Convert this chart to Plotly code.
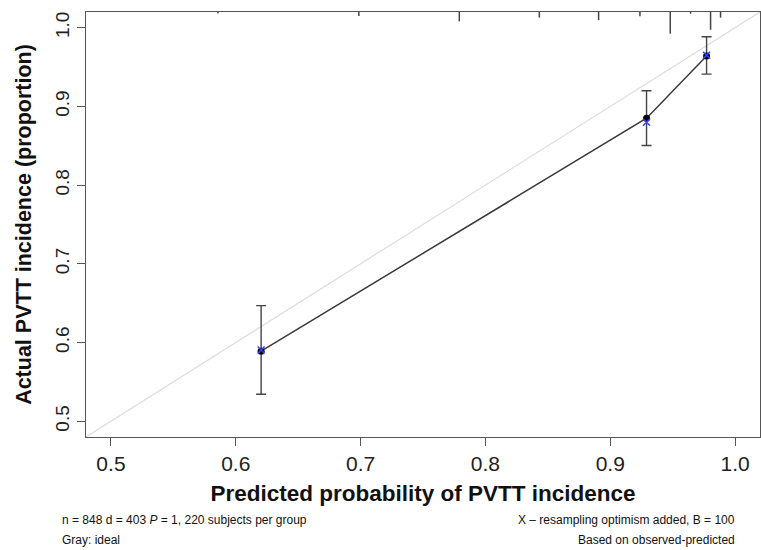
import plotly.graph_objects as go

# ---- data ----
pred = [0.6203, 0.9291, 0.9772]          # mean predicted probability per group
observed = [0.5891, 0.8850, 0.9642]      # apparent observed proportion
err_upper = [0.6469, 0.9200, 0.9886]     # upper CI
err_lower = [0.5344, 0.8504, 0.9411]     # lower CI
bias_corrected = [0.5905, 0.8800, 0.9650]  # resampling optimism added (X)

rug_x = [0.5857, 0.6986, 0.7791, 0.8432, 0.8907, 0.9238, 0.9481, 0.9644, 0.9804, 0.9884]
rug_rel = [0.07, 0.18, 0.43, 0.26, 0.38, 0.20, 1.00, 0.08, 0.82, 0.26]

ideal = [0.48, 1.02]
x_ticks = [0.5, 0.6, 0.7, 0.8, 0.9, 1.0]
y_ticks = [0.5, 0.6, 0.7, 0.8, 0.9, 1.0]

RUG_MAX = 0.051  # fraction of plot height for tallest spike

fig = go.Figure()

# ideal line
fig.add_trace(go.Scatter(x=ideal, y=ideal, mode="lines",
                         line=dict(color="#dcdcdc", width=1.2), hoverinfo="skip"))

# apparent calibration with error bars
fig.add_trace(go.Scatter(
    x=pred, y=observed, mode="lines+markers",
    line=dict(color="#3a3a3a", width=1.5),
    marker=dict(color="black", size=7, symbol="circle"),
    error_y=dict(type="data", symmetric=False,
                 array=[u - o for u, o in zip(err_upper, observed)],
                 arrayminus=[o - l for o, l in zip(observed, err_lower)],
                 color="#444444", thickness=1.4, width=5)))

# bias-corrected X
fig.add_trace(go.Scatter(
    x=pred, y=bias_corrected, mode="markers",
    marker=dict(symbol="x-thin", size=7, line=dict(color="#3344ff", width=1.5))))

# spike histogram along top edge
rx, ry = [], []
for xv, rv in zip(rug_x, rug_rel):
    rx += [xv, xv, None]
    ry += [1.0, 1.0 - rv * RUG_MAX, None]
fig.add_trace(go.Scatter(x=rx, y=ry, mode="lines", yaxis="y2",
                         line=dict(color="#444444", width=1.5), hoverinfo="skip"))

axis_common = dict(showline=True, linecolor="#555555", linewidth=1.4, mirror=True,
                   ticks="outside", ticklen=8, tickwidth=1.2, tickcolor="#555555",
                   showgrid=False, zeroline=False, tickformat=".1f", automargin=False)

fig.update_layout(
    width=761, height=550,
    margin=dict(l=86, r=1, t=12, b=113),
    paper_bgcolor="white", plot_bgcolor="white",
    showlegend=False,
    font=dict(family="Liberation Sans, Arial, sans-serif", color="#111111"),
    xaxis=dict(range=[0.48, 1.02], tickvals=x_ticks,
               tickfont=dict(size=21, color="#222222"),
               title=dict(text="<b>Predicted probability of PVTT incidence</b>",
                          font=dict(size=22.5, color="#111111"), standoff=10),
               **axis_common),
    yaxis=dict(range=[0.48, 1.02], tickvals=y_ticks, tickangle=-90,
               tickfont=dict(size=19, color="#222222"),
               title=dict(text="<b>Actual PVTT incidence (proportion)</b>",
                          font=dict(size=21.5, color="#111111"), standoff=14),
               **axis_common),
    yaxis2=dict(overlaying="y", range=[0, 1], visible=False, fixedrange=True),
)

note_font = dict(family="Liberation Sans Narrow, Arial Narrow, Liberation Sans, sans-serif",
                 size=12, color="#111111")
fig.add_annotation(text="n = 848 d = 403 <i>P</i> = 1, 220 subjects per group",
                   xref="paper", yref="paper", x=0, y=0, xanchor="left", yanchor="middle",
                   xshift=-26, yshift=-83, showarrow=False, font=note_font)
fig.add_annotation(text="Gray: ideal",
                   xref="paper", yref="paper", x=0, y=0, xanchor="left", yanchor="middle",
                   xshift=-26, yshift=-103, showarrow=False, font=note_font)
fig.add_annotation(text="X – resampling optimism added, B = 100",
                   xref="paper", yref="paper", x=1, y=0, xanchor="right", yanchor="middle",
                   xshift=-23, yshift=-83, showarrow=False, font=note_font)
fig.add_annotation(text="Based on observed-predicted",
                   xref="paper", yref="paper", x=1, y=0, xanchor="right", yanchor="middle",
                   xshift=-23, yshift=-103, showarrow=False, font=note_font)

fig.write_html("out.html", config={"displayModeBar": False},
               post_script="document.body.style.margin='0';document.body.style.overflow='hidden';")
